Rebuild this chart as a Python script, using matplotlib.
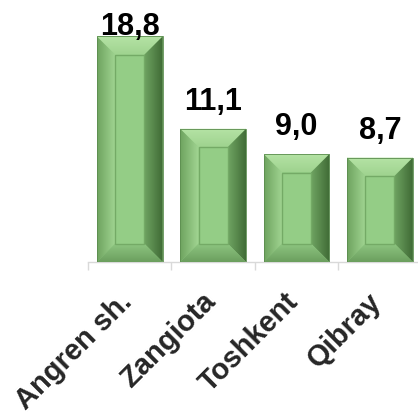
import numpy as np
import matplotlib
matplotlib.use("Agg")
import matplotlib.pyplot as plt
from matplotlib.patches import Polygon, Rectangle
from matplotlib.colors import LinearSegmentedColormap
import matplotlib.transforms as mtransforms

categories = ["Angren sh.", "Zangiota", "Toshkent", "Qibray"]
values = [18.8, 11.1, 9.0, 8.7]
value_labels = ["18,8", "11,1", "9,0", "8,7"]

W, H, DPI = 418, 420, 100
fig = plt.figure(figsize=(W / DPI, H / DPI), dpi=DPI)
fig.patch.set_facecolor("white")
ax = fig.add_axes([88 / W, (H - 262) / H, 333.6 / W, 240 / H])
ax.set_facecolor("none")

x = np.arange(len(categories))
bars = ax.bar(x, values, width=0.79, color="#93cc85", zorder=2, linewidth=0)
ax.set_xlim(-0.5, len(categories) - 0.5)
ax.set_ylim(0, 20)
ax.set_autoscale_on(False)

# bevel size (px -> data)
px_x = 333.6 / len(categories)
px_y = 240 / 20
bev = 18.5
dx = bev / px_x
dy = bev / px_y


def grad_patch(poly_pts, c1, c2, direction, extent):
    poly = Polygon(poly_pts, closed=True, facecolor="none", edgecolor="none", zorder=3)
    ax.add_patch(poly)
    cmap = LinearSegmentedColormap.from_list("g", [c1, c2])
    n = 64
    if direction == "h":
        arr = np.linspace(0, 1, n).reshape(1, n)
    else:
        arr = np.linspace(0, 1, n).reshape(n, 1)
    im = ax.imshow(arr, cmap=cmap, extent=extent, origin="lower",
                   aspect="auto", interpolation="bilinear", zorder=3)
    im.set_clip_path(poly)


for b in bars:
    x0 = b.get_x()
    w = b.get_width()
    h = b.get_height()
    x1 = x0 + w
    # top bevel
    grad_patch([(x0, h), (x1, h), (x1 - dx, h - dy), (x0 + dx, h - dy)],
               "#9fd38f", "#b5e3a5", "v", [x0, x1, h - dy, h])
    # left bevel
    grad_patch([(x0, 0), (x0, h), (x0 + dx, h - dy), (x0 + dx, dy)],
               "#6ea35f", "#a2d693", "h", [x0, x0 + dx, 0, h])
    # right bevel
    grad_patch([(x1, 0), (x1, h), (x1 - dx, h - dy), (x1 - dx, dy)],
               "#3f6a35", "#6fa462", "h", [x1, x1 - dx, 0, h])
    # bottom bevel
    grad_patch([(x0, 0), (x1, 0), (x1 - dx, dy), (x0 + dx, dy)],
               "#6b9f5e", "#8fc682", "v", [x0, x1, 0, dy])
    # inner panel
    ax.add_patch(Rectangle((x0 + dx, dy), w - 2 * dx, h - 2 * dy,
                           facecolor="#94cd86", edgecolor="#74aa66",
                           linewidth=1.0, zorder=4))
    # outer thin edge
    ax.add_patch(Rectangle((x0, 0), w, h, facecolor="none",
                           edgecolor="#5b8d4f", linewidth=0.6, zorder=5))

# value labels
for xi, v, lab in zip(x, values, value_labels):
    ty = min(v + 19 / px_y, (262 - 35) / px_y)
    ax.text(xi, ty, lab, ha="center", va="baseline", fontsize=22,
            fontweight="bold", family="Liberation Sans", color="black", zorder=6,
            clip_on=False)

# axes styling
for s in ["left", "right", "top"]:
    ax.spines[s].set_visible(False)
ax.spines["bottom"].set_color("#d9d9d9")
ax.spines["bottom"].set_linewidth(1.0)
ax.set_yticks([])
ax.set_xticks(x)
ax.set_xticks(np.arange(-0.5, len(categories), 1.0), minor=True)
ax.tick_params(axis="x", which="minor", length=6, color="#d9d9d9", width=1.0)
ax.tick_params(axis="x", which="major", length=0, pad=29.5)
ax.set_xticklabels(categories, rotation=45, ha="right", va="baseline",
                   rotation_mode="anchor", fontsize=21, fontweight="bold",
                   family="Liberation Sans", color="#262626")
offset = mtransforms.ScaledTranslation(3.5 / DPI, 0, fig.dpi_scale_trans)
for lbl in ax.get_xticklabels():
    lbl.set_transform(lbl.get_transform() + offset)

fig.savefig("out.png", dpi=DPI)
